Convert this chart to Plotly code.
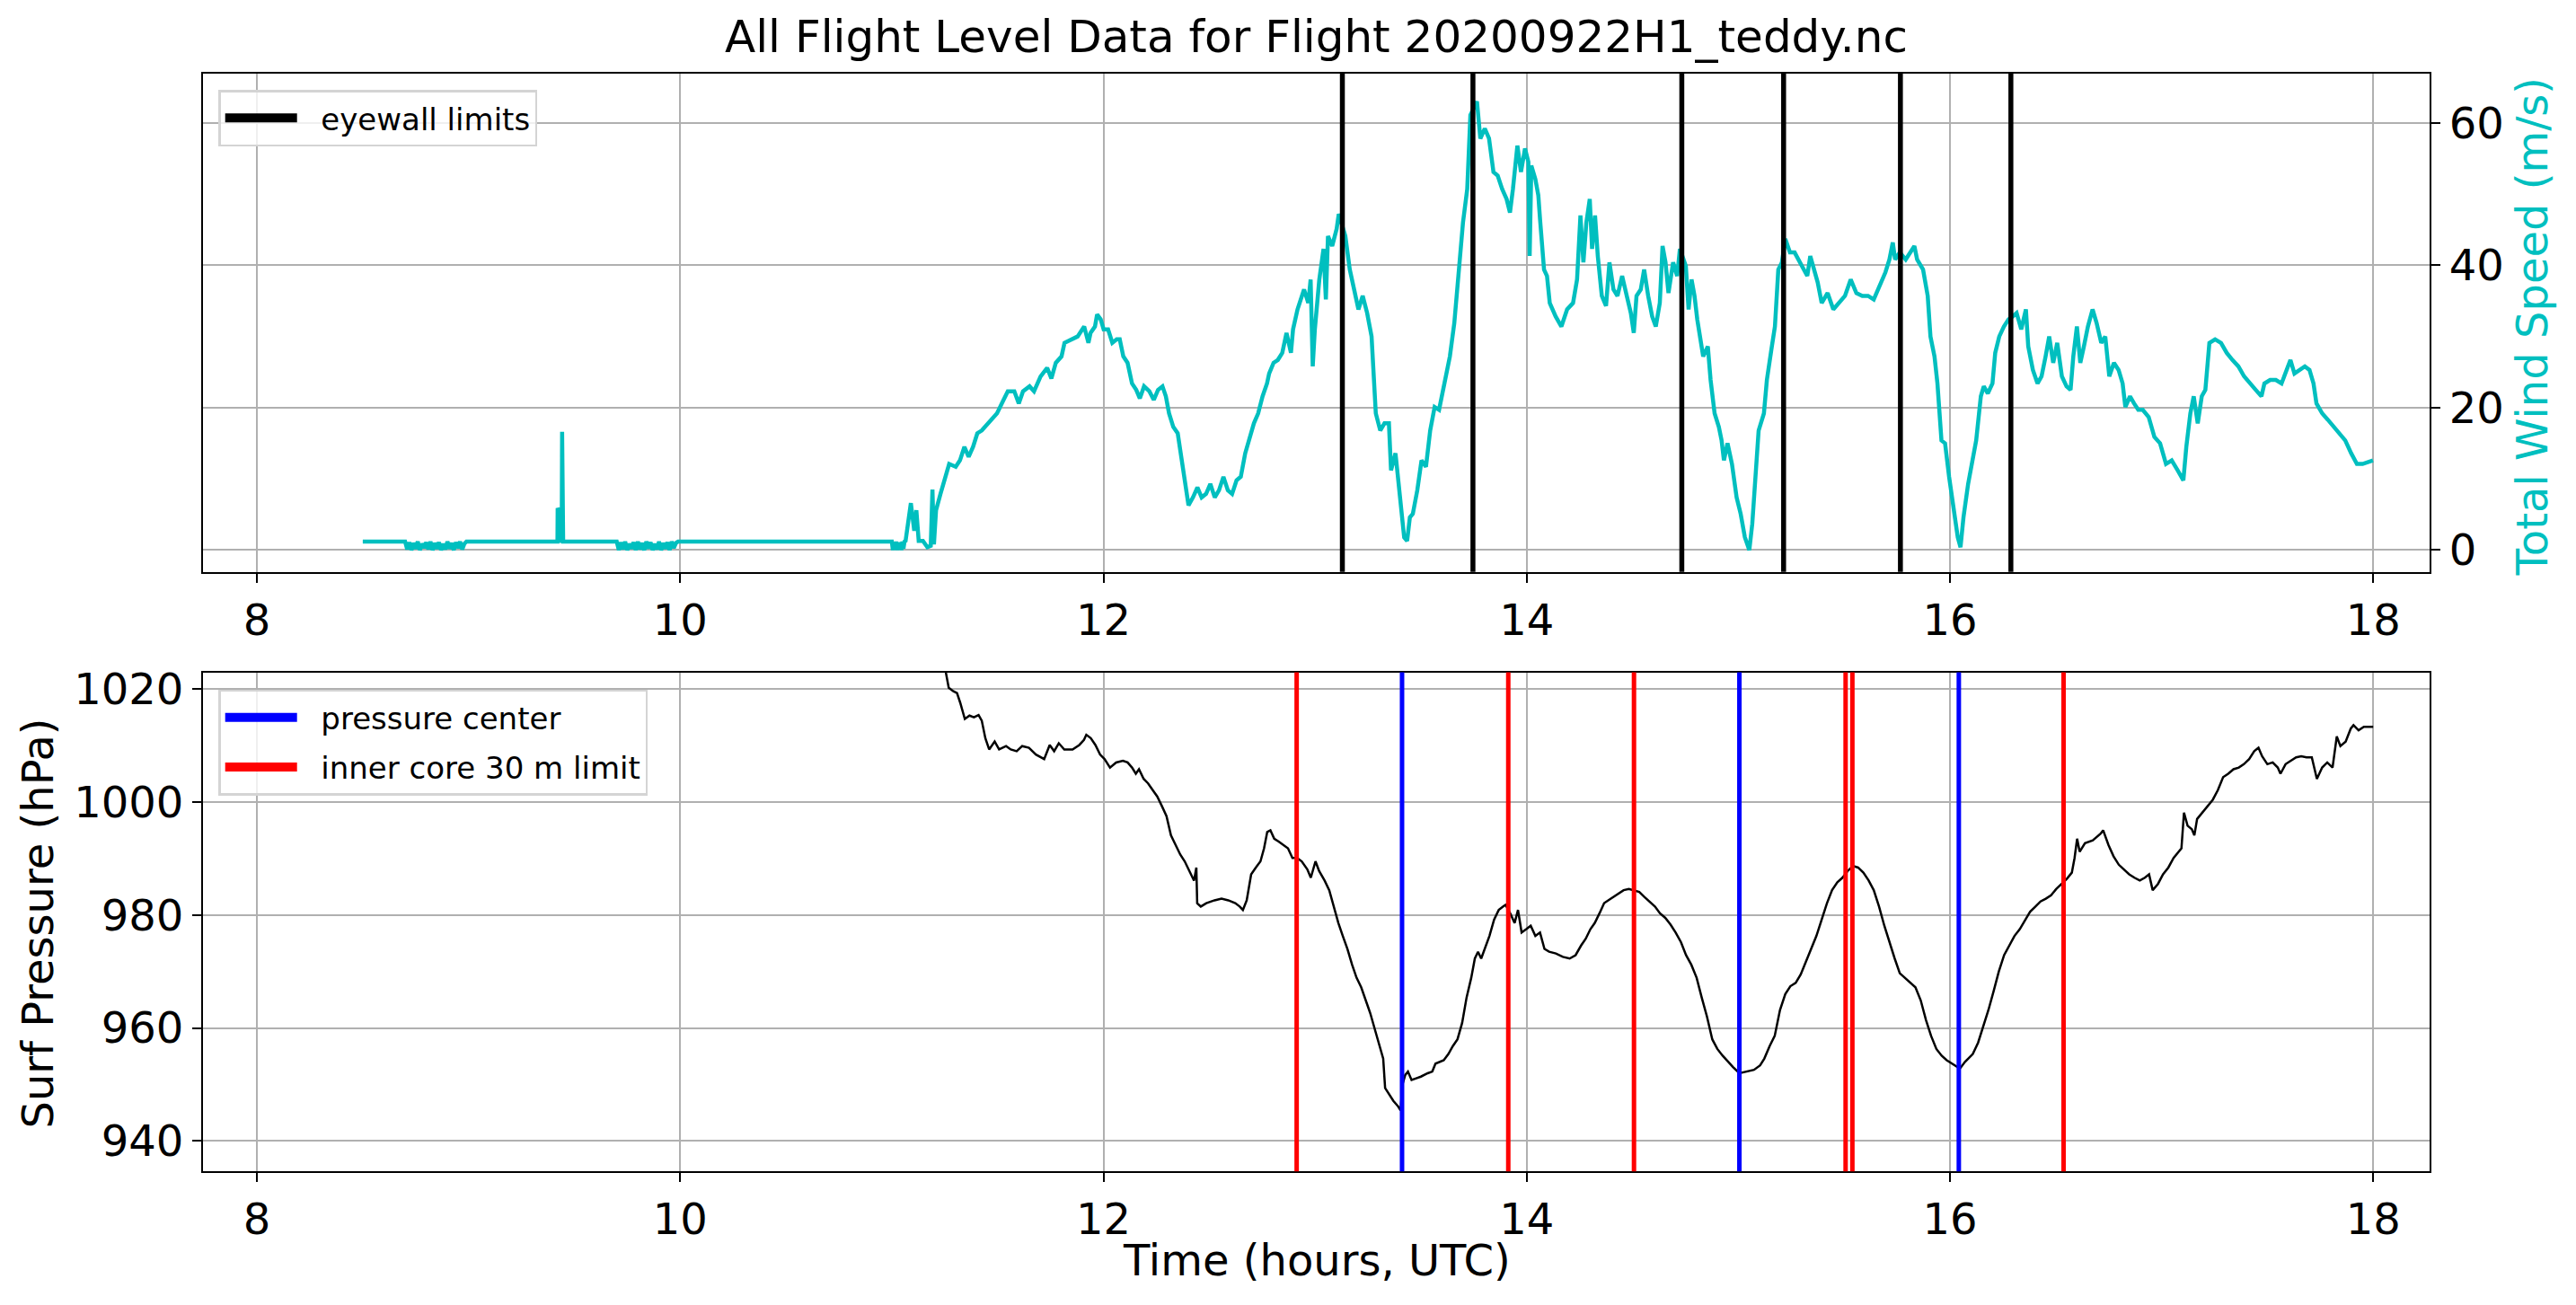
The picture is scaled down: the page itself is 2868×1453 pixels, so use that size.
import plotly.graph_objects as go

# flight level wind speed (hours UTC, m/s)
wind_time = [8.50, 8.70, 8.71, 8.72, 8.73, 8.74, 8.75, 8.76, 8.77, 8.78, 8.79, 8.80, 8.81, 8.82, 8.83, 8.84,
             8.85, 8.86, 8.87, 8.88, 8.89, 8.90, 8.91, 8.92, 8.93, 8.94, 8.95, 8.96, 8.97, 8.98, 8.99,
             9.42, 9.421, 9.428, 9.432, 9.440, 9.442, 9.447,
             9.70, 9.71, 9.72, 9.73, 9.74, 9.75, 9.76, 9.77, 9.78, 9.79, 9.80, 9.81, 9.82, 9.83, 9.84, 9.85,
             9.86, 9.87, 9.88, 9.89, 9.90, 9.91, 9.92, 9.93, 9.94, 9.95, 9.96, 9.97, 9.98, 9.99,
             11.00, 11.005, 11.01, 11.015, 11.02, 11.025, 11.03, 11.035, 11.04, 11.045, 11.05, 11.055, 11.06,
             11.065, 11.090, 11.106, 11.116, 11.127, 11.147, 11.168, 11.184, 11.192, 11.199, 11.209, 11.230,
             11.250, 11.271, 11.302, 11.322, 11.343, 11.363, 11.384, 11.404, 11.425, 11.456, 11.497, 11.528,
             11.548, 11.579, 11.600, 11.620, 11.651, 11.672, 11.703, 11.734, 11.754, 11.775, 11.802, 11.816,
             11.847, 11.878, 11.909, 11.929, 11.939, 11.960, 11.970, 11.987, 12.001, 12.022, 12.042, 12.063,
             12.077, 12.094, 12.114, 12.135, 12.155, 12.172, 12.192, 12.217, 12.238, 12.258, 12.279, 12.295,
             12.310, 12.330, 12.351, 12.365, 12.382, 12.402, 12.423, 12.444, 12.464, 12.485, 12.505, 12.526,
             12.546, 12.567, 12.588, 12.608, 12.629, 12.649, 12.670, 12.690, 12.711, 12.731, 12.752, 12.773,
             12.783, 12.804, 12.824, 12.845, 12.865, 12.886, 12.896, 12.917, 12.948, 12.968, 12.979, 12.989,
             12.999, 13.020, 13.040, 13.051, 13.061, 13.081, 13.102, 13.112, 13.143, 13.164, 13.184, 13.205,
             13.225, 13.246, 13.267, 13.287, 13.308, 13.328, 13.349, 13.359, 13.380, 13.400, 13.421, 13.435,
             13.448, 13.462, 13.483, 13.503, 13.524, 13.544, 13.565, 13.586, 13.606, 13.637, 13.658, 13.678,
             13.699, 13.719, 13.734, 13.765, 13.781, 13.802, 13.822, 13.843, 13.863, 13.884, 13.905, 13.921,
             13.935, 13.956, 13.973, 13.992, 14.008, 14.014, 14.022, 14.041, 14.055, 14.063, 14.074, 14.082,
             14.096, 14.109, 14.137, 14.164, 14.191, 14.219, 14.238, 14.254, 14.268, 14.282, 14.298, 14.309,
             14.323, 14.336, 14.355, 14.375, 14.391, 14.410, 14.429, 14.451, 14.473, 14.492, 14.506, 14.519,
             14.539, 14.555, 14.574, 14.593, 14.610, 14.629, 14.642, 14.656, 14.670, 14.692, 14.711, 14.724,
             14.752, 14.765, 14.779, 14.793, 14.806, 14.820, 14.834, 14.856, 14.869, 14.888, 14.908, 14.921,
             14.932, 14.949, 14.970, 14.992, 15.011, 15.031, 15.052, 15.066, 15.080, 15.096, 15.121, 15.135,
             15.156, 15.173, 15.189, 15.206, 15.222, 15.244, 15.266, 15.285, 15.304, 15.326, 15.340, 15.359,
             15.375, 15.394, 15.422, 15.449, 15.476, 15.504, 15.531, 15.558, 15.586, 15.613, 15.640, 15.668,
             15.695, 15.714, 15.730, 15.741, 15.763, 15.791, 15.810, 15.832, 15.845, 15.873, 15.895, 15.908,
             15.927, 15.941, 15.960, 15.977, 15.996, 16.015, 16.037, 16.050, 16.064, 16.086, 16.105, 16.124,
             16.146, 16.160, 16.179, 16.201, 16.214, 16.233, 16.255, 16.277, 16.296, 16.315, 16.337, 16.359,
             16.370, 16.392, 16.414, 16.433, 16.452, 16.469, 16.488, 16.507, 16.529, 16.551, 16.570, 16.583,
             16.600, 16.616, 16.633, 16.652, 16.674, 16.693, 16.715, 16.734, 16.753, 16.775, 16.797, 16.816,
             16.829, 16.851, 16.870, 16.890, 16.911, 16.939, 16.966, 16.993, 17.021, 17.048, 17.076, 17.103,
             17.117, 17.136, 17.152, 17.171, 17.190, 17.207, 17.226, 17.253, 17.281, 17.308, 17.335, 17.363,
             17.390, 17.417, 17.445, 17.472, 17.486, 17.513, 17.540, 17.567, 17.581, 17.609, 17.628, 17.650,
             17.677, 17.699, 17.718, 17.732, 17.759, 17.786, 17.814, 17.841, 17.868, 17.896, 17.923, 17.950,
             17.978, 17.999]
wind_speed = [1.2, 1.2, 0.1, 1.1, 0.0, 1.0, 0.2, 1.2, 0.0, 0.9, 0.3, 1.1, 0.1, 1.2, 0.0, 1.0,
              0.2, 1.1, 0.0, 0.9, 0.1, 1.2, 0.2, 1.0, 0.0, 1.1, 0.3, 1.2, 0.1, 0.9, 1.2,
              1.2, 5.9, 5.4, 1.4, 1.2, 16.6, 1.2,
              1.2, 0.0, 1.1, 0.1, 1.2, 0.0, 0.9, 0.2, 1.1, 0.0, 1.2, 0.1, 1.0, 0.0, 1.2, 0.2,
              1.1, 0.0, 0.9, 0.1, 1.2, 0.0, 1.0, 0.2, 1.1, 0.0, 1.2, 0.3, 1.0, 1.2,
              1.2, 0.0, 1.1, 0.1, 1.2, 0.0, 0.9, 0.1, 1.1, 0.0, 1.2, 0.2, 1.2,
              1.3, 6.6, 2.7, 5.6, 1.3, 1.3, 0.4, 0.6, 8.5, 0.8, 5.6, 7.9,
              9.8, 12.1, 11.7, 12.6, 14.5, 13.1, 14.5, 16.4, 16.8, 17.8, 19.2, 21.1,
              22.3, 22.3, 20.6, 22.3, 23.0, 22.3, 24.4, 25.6, 24.1, 26.3, 27.2, 29.1,
              29.6, 30.0, 31.4, 29.1, 30.5, 31.4, 33.1, 32.4, 31.0, 31.0, 29.1, 29.6,
              29.6, 27.2, 26.3, 23.4, 22.5, 21.3, 23.0, 22.3, 21.1, 22.5, 23.0, 21.6,
              19.2, 17.3, 16.4, 13.6, 9.8, 6.3, 7.4, 8.8, 7.4, 7.9, 9.3, 7.4,
              8.4, 10.3, 8.4, 7.9, 9.8, 10.3, 13.6, 15.9, 17.8, 19.2, 21.6, 23.4,
              24.8, 26.3, 26.7, 27.7, 30.5, 27.7, 31.0, 33.8, 36.6, 34.7, 38.0, 25.8,
              31.0, 38.0, 42.3, 35.2, 44.1, 42.7, 45.1, 47.2, 44.1, 39.4, 36.6, 33.8,
              35.7, 33.3, 30.0, 19.2, 16.8, 17.8, 17.8, 11.2, 13.6, 7.4, 1.8, 1.3,
              4.6, 5.1, 8.4, 12.6, 11.7, 16.8, 20.1, 19.7, 22.5, 27.2, 31.9, 39.4,
              46.0, 50.7, 61.1, 63.0, 57.8, 59.2, 57.8, 53.1, 52.6, 50.7, 49.3, 47.4,
              50.7, 56.8, 53.1, 56.4, 54.5, 41.3, 54.0, 52.1, 49.8, 46.5, 42.7, 39.4,
              38.5, 34.7, 32.8, 31.4, 33.8, 34.7, 38.0, 47.0, 40.4, 46.0, 49.3, 42.3,
              47.0, 41.3, 35.7, 34.3, 40.4, 36.6, 35.7, 38.5, 35.7, 33.3, 30.5, 35.7,
              36.6, 39.4, 35.7, 32.8, 31.4, 34.7, 42.7, 40.4, 36.1, 40.4, 38.5, 42.3,
              39.9, 33.8, 38.0, 35.7, 32.4, 29.6, 27.2, 28.6, 23.9, 19.2, 17.3, 15.4,
              12.6, 15.0, 12.1, 7.4, 5.1, 1.8, 0.0, 3.7, 10.7, 16.8, 19.2, 23.9,
              28.1, 31.4, 39.4, 40.4, 43.7, 41.8, 41.8, 40.8, 39.9, 38.5, 41.3, 39.4,
              37.6, 34.7, 36.1, 33.8, 34.7, 35.7, 38.0, 36.1, 35.7, 35.7, 35.2, 37.1,
              39.0, 40.8, 43.2, 40.8, 41.8, 40.8, 41.8, 42.7, 40.8, 39.4, 35.7, 30.0,
              27.2, 23.4, 15.4, 15.0, 10.3, 6.0, 1.8, 0.4, 4.6, 9.3, 12.1, 15.4,
              21.6, 23.0, 22.0, 23.4, 27.7, 30.0, 31.4, 32.4, 32.8, 33.3, 31.0, 33.8,
              28.6, 25.3, 23.4, 24.4, 27.2, 30.0, 26.3, 29.1, 24.4, 23.0, 22.5, 27.2,
              31.4, 26.3, 28.6, 31.4, 33.8, 31.9, 29.1, 30.0, 24.4, 26.3, 25.3, 23.4,
              20.1, 21.6, 20.6, 19.7, 19.7, 18.7, 15.9, 15.0, 12.1, 12.6, 11.2, 9.8,
              14.5, 19.2, 21.6, 17.8, 21.6, 22.5, 29.1, 29.6, 29.1, 27.7, 26.7, 25.8,
              24.4, 23.4, 22.5, 21.6, 23.4, 23.9, 23.9, 23.4, 24.4, 26.7, 24.8, 25.3,
              25.8, 25.3, 23.4, 20.6, 19.2, 18.3, 17.3, 16.4, 15.4, 13.6, 12.1, 12.1,
              12.4, 12.6]

# surface pressure (hours UTC, hPa)
pres_time = [11.22, 11.254, 11.269, 11.291, 11.308, 11.323, 11.345, 11.367, 11.388, 11.410, 11.425, 11.442,
             11.460, 11.486, 11.507, 11.540, 11.562, 11.590, 11.616, 11.648, 11.681, 11.720, 11.746, 11.767,
             11.789, 11.815, 11.854, 11.886, 11.908, 11.919, 11.940, 11.962, 11.984, 12.005, 12.031, 12.060,
             12.092, 12.114, 12.135, 12.153, 12.168, 12.190, 12.211, 12.233, 12.254, 12.276, 12.298, 12.319,
             12.341, 12.363, 12.384, 12.406, 12.428, 12.439, 12.443, 12.460, 12.486, 12.525, 12.558, 12.590,
             12.623, 12.644, 12.659, 12.677, 12.698, 12.720, 12.742, 12.759, 12.774, 12.789, 12.807, 12.828,
             12.850, 12.872, 12.893, 12.915, 12.937, 12.963, 12.980, 13.002, 13.019, 13.045, 13.067, 13.088,
             13.110, 13.131, 13.153, 13.175, 13.196, 13.218, 13.240, 13.261, 13.283, 13.305, 13.322, 13.331,
             13.348, 13.370, 13.391, 13.404, 13.413, 13.426, 13.439, 13.456, 13.478, 13.500, 13.532, 13.554,
             13.569, 13.586, 13.608, 13.630, 13.651, 13.673, 13.695, 13.716, 13.738, 13.755, 13.770, 13.785,
             13.803, 13.824, 13.846, 13.868, 13.889, 13.900, 13.922, 13.943, 13.959, 13.976, 13.998, 14.019,
             14.041, 14.063, 14.084, 14.106, 14.138, 14.171, 14.203, 14.231, 14.257, 14.279, 14.301, 14.322,
             14.344, 14.366, 14.398, 14.433, 14.458, 14.483, 14.507, 14.532, 14.556, 14.581, 14.606, 14.630,
             14.655, 14.680, 14.704, 14.729, 14.753, 14.778, 14.803, 14.827, 14.852, 14.877, 14.901, 14.926,
             14.951, 14.975, 15.005, 15.037, 15.074, 15.103, 15.123, 15.148, 15.172, 15.197, 15.222, 15.246,
             15.271, 15.295, 15.320, 15.345, 15.369, 15.394, 15.419, 15.443, 15.468, 15.492, 15.517, 15.542,
             15.566, 15.591, 15.616, 15.640, 15.665, 15.690, 15.714, 15.739, 15.763, 15.788, 15.813, 15.837,
             15.862, 15.887, 15.911, 15.936, 15.961, 15.985, 16.010, 16.034, 16.047, 16.071, 16.108, 16.133,
             16.158, 16.182, 16.207, 16.231, 16.256, 16.281, 16.305, 16.330, 16.355, 16.379, 16.404, 16.428,
             16.453, 16.478, 16.502, 16.527, 16.552, 16.576, 16.589, 16.601, 16.613, 16.638, 16.675, 16.712,
             16.724, 16.749, 16.773, 16.798, 16.823, 16.847, 16.872, 16.897, 16.921, 16.941, 16.958, 16.983,
             17.007, 17.032, 17.057, 17.094, 17.106, 17.123, 17.143, 17.155, 17.168, 17.192, 17.217, 17.242,
             17.266, 17.291, 17.315, 17.340, 17.365, 17.389, 17.414, 17.438, 17.458, 17.475, 17.500, 17.525,
             17.549, 17.562, 17.586, 17.611, 17.636, 17.660, 17.685, 17.710, 17.734, 17.759, 17.783, 17.808,
             17.828, 17.845, 17.870, 17.894, 17.907, 17.931, 17.956, 17.981, 18.000]
pres_surf = [1030.0, 1023.0, 1020.2, 1019.6, 1019.3, 1017.6, 1014.7, 1015.3, 1015.0, 1015.4, 1014.4, 1011.3,
             1009.3, 1010.7, 1009.3, 1009.9, 1009.3, 1009.0, 1009.9, 1009.6, 1008.4, 1007.6, 1010.1, 1009.0,
             1010.4, 1009.3, 1009.3, 1010.1, 1011.0, 1011.9, 1011.3, 1010.1, 1008.4, 1007.6, 1006.1, 1007.0,
             1007.3, 1007.0, 1006.1, 1005.0, 1005.8, 1004.1, 1003.3, 1002.1, 1001.0, 999.3, 997.5, 994.1,
             992.4, 990.7, 989.5, 987.8, 986.1, 988.4, 982.1, 981.5, 982.1, 982.6, 982.9, 982.6,
             982.1, 981.5, 980.9, 982.6, 987.2, 988.4, 989.5, 991.8, 994.7, 995.0, 993.5, 993.0,
             992.4, 991.8, 990.1, 990.1, 989.5, 988.1, 986.6, 989.5, 987.8, 986.1, 984.4, 981.5,
             978.6, 976.3, 974.0, 971.2, 968.9, 967.2, 964.9, 962.6, 959.7, 956.8, 954.6, 949.4,
             948.3, 947.1, 946.2, 945.4, 950.0, 951.7, 952.3, 950.8, 951.1, 951.4, 952.0, 952.3,
             953.7, 954.0, 954.3, 955.4, 956.8, 958.0, 960.9, 965.4, 968.9, 972.3, 973.5, 972.3,
             974.0, 976.3, 979.2, 980.9, 981.5, 981.8, 980.3, 978.6, 980.9, 976.9, 977.5, 978.1,
             976.3, 976.9, 974.0, 973.5, 973.2, 972.6, 972.3, 972.9, 974.6, 975.8, 977.5, 978.6,
             980.3, 982.1, 982.9, 983.8, 984.4, 984.6, 984.4, 984.1, 983.2, 982.4, 981.5, 980.3,
             979.5, 978.3, 976.9, 975.2, 972.9, 971.2, 968.9, 965.4, 962.0, 958.0, 956.3, 955.1,
             954.0, 953.1, 952.0, 952.3, 952.6, 953.4, 954.6, 956.8, 958.6, 963.2, 966.0, 967.4,
             968.0, 969.5, 971.7, 974.0, 976.3, 979.2, 982.1, 984.4, 985.8, 986.6, 987.8, 988.7,
             988.4, 987.5, 986.1, 984.4, 981.5, 978.1, 975.2, 972.3, 969.7, 968.9, 968.0, 967.2,
             964.9, 961.4, 958.6, 956.3, 955.1, 954.3, 953.7, 953.1, 952.8, 954.0, 955.4, 957.4,
             960.3, 963.2, 966.6, 970.0, 972.9, 974.6, 976.3, 977.5, 979.2, 980.6, 981.5, 982.4,
             982.9, 983.5, 984.6, 985.5, 986.4, 987.5, 990.1, 993.5, 991.2, 992.7, 993.2, 994.4,
             995.0, 992.4, 990.4, 988.9, 988.1, 987.2, 986.6, 986.1, 986.6, 987.2, 984.4, 985.5,
             987.2, 988.4, 990.1, 991.8, 998.1, 995.8, 995.2, 994.1, 997.0, 998.1, 999.3, 1000.4,
             1002.1, 1004.4, 1005.0, 1005.8, 1006.1, 1006.7, 1007.6, 1009.0, 1009.6, 1008.1, 1006.7, 1007.0,
             1006.1, 1005.0, 1006.7, 1007.3, 1007.9, 1008.1, 1007.9, 1007.9, 1004.1, 1006.1, 1007.0, 1006.1,
             1011.6, 1009.9, 1010.7, 1013.0, 1013.6, 1012.7, 1013.3, 1013.3, 1013.3]

# marked times (hours UTC)
eyewall_limits = [13.129, 13.746, 14.733, 15.214, 15.766, 16.288]
pressure_centers = [13.411, 15.005, 16.042]
inner_core_limits = [12.913, 13.913, 14.507, 15.507, 15.539, 16.537]

flight = '20200922H1_teddy.nc'
xticks = [8, 10, 12, 14, 16, 18]

CYAN = '#00bfbf'
FONT = 'DejaVu Sans'
GAP = '\u00a0\u00a0'  # room between legend line and label

fig = go.Figure()

# top: wind speed
fig.add_trace(go.Scatter(x=wind_time, y=wind_speed, mode='lines', line=dict(color=CYAN, width=4.5),
                         xaxis='x', yaxis='y', showlegend=False))
for t in eyewall_limits:
    fig.add_shape(type='line', xref='x', yref='y domain', x0=t, x1=t, y0=0, y1=1,
                  line=dict(color='black', width=5.5))
fig.add_trace(go.Scatter(x=[None], y=[None], mode='lines', line=dict(color='black', width=10),
                         name=GAP + 'eyewall limits', xaxis='x', yaxis='y', legend='legend'))

# bottom: surface pressure
fig.add_trace(go.Scatter(x=pres_time, y=pres_surf, mode='lines', line=dict(color='black', width=2.5),
                         xaxis='x2', yaxis='y2', showlegend=False))
for t in inner_core_limits:
    fig.add_shape(type='line', xref='x2', yref='y2 domain', x0=t, x1=t, y0=0, y1=1,
                  line=dict(color='red', width=5))
for t in pressure_centers:
    fig.add_shape(type='line', xref='x2', yref='y2 domain', x0=t, x1=t, y0=0, y1=1,
                  line=dict(color='blue', width=5))
fig.add_trace(go.Scatter(x=[None], y=[None], mode='lines', line=dict(color='blue', width=10),
                         name=GAP + 'pressure center', legendgroup='pc',
                         xaxis='x2', yaxis='y2', legend='legend2'))
fig.add_trace(go.Scatter(x=[None], y=[None], mode='lines', line=dict(color='red', width=10),
                         name=GAP + 'inner core 30 m limit', legendgroup='ic',
                         xaxis='x2', yaxis='y2', legend='legend2'))

axis_style = dict(showline=True, mirror=True, linecolor='black', linewidth=2.2,
                  ticks='outside', ticklen=10, tickwidth=2.2, tickcolor='black',
                  showgrid=True, gridcolor='#b0b0b0', gridwidth=2, zeroline=False,
                  tickfont=dict(family=FONT, size=48, color='black'))
legend_style = dict(xanchor='left', yanchor='top', bgcolor='rgba(255,255,255,0.8)',
                    bordercolor='#d4d4d4', borderwidth=2.5,
                    font=dict(family=FONT, size=34, color='black'),
                    itemwidth=80, tracegroupgap=8)

fig.update_layout(
    width=2868, height=1453,
    margin=dict(l=0, r=0, t=0, b=0),
    plot_bgcolor='white', paper_bgcolor='white',
    xaxis=dict(domain=[0.0788, 0.9432], anchor='y', range=[7.745, 18.267], tickvals=xticks, **axis_style),
    yaxis=dict(domain=[0.5643, 0.9493], anchor='x', side='right', range=[-3.07, 66.9],
               tickvals=[0, 20, 40, 60], **axis_style),
    xaxis2=dict(domain=[0.0788, 0.9432], anchor='y2', range=[7.745, 18.267], tickvals=xticks, **axis_style),
    yaxis2=dict(domain=[0.1012, 0.4868], anchor='x2', range=[934.64, 1022.96],
                tickvals=[940, 960, 980, 1000, 1020], **axis_style),
    legend=dict(x=0.0848, y=0.9367, **legend_style),
    legend2=dict(x=0.0848, y=0.4735, **legend_style),
    annotations=[
        dict(text=f'All Flight Level Data for Flight {flight}', x=0.511, y=0.978, xref='paper', yref='paper',
             showarrow=False, xanchor='center', yanchor='middle', font=dict(family=FONT, size=50, color='black')),
        dict(text='Time (hours, UTC)', x=0.511, y=0.0323, xref='paper', yref='paper',
             showarrow=False, xanchor='center', yanchor='middle', font=dict(family=FONT, size=48, color='black')),
        dict(text='Surf Pressure (hPa)', x=0.0143, y=0.2925, xref='paper', yref='paper', textangle=-90,
             showarrow=False, xanchor='center', yanchor='middle', font=dict(family=FONT, size=48, color='black')),
        dict(text='Total Wind Speed (m/s)', x=0.983, y=0.7536, xref='paper', yref='paper', textangle=-90,
             showarrow=False, xanchor='center', yanchor='middle', font=dict(family=FONT, size=48, color=CYAN)),
    ],
)

# drop the default page margin so the figure fills the window exactly; no modebar
fig.write_html("out.html", config={'displayModeBar': False},
               post_script="document.body.style.margin = '0';")
